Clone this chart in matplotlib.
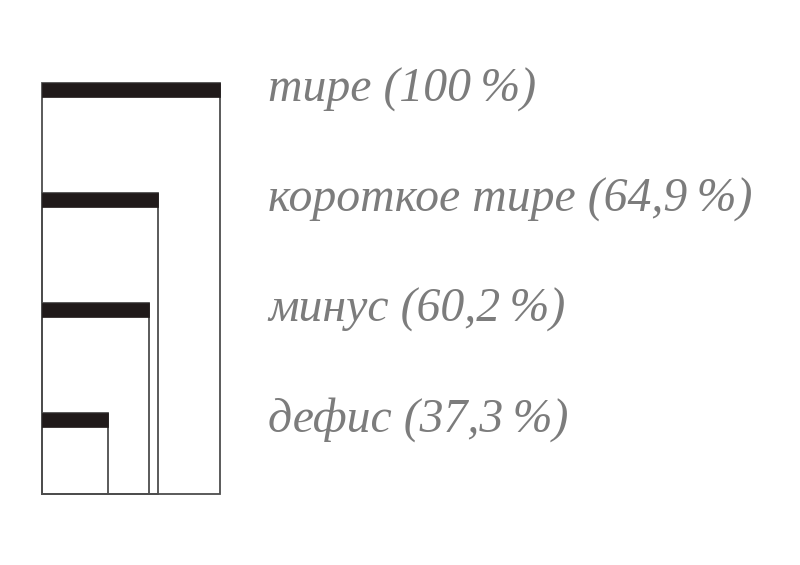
"""Nested-rectangle comparison of dash lengths (тире, короткое тире, минус, дефис)."""

import matplotlib
matplotlib.use("Agg")
import matplotlib.pyplot as plt

# data
names = ["тире", "короткое тире", "минус", "дефис"]
lengths = [100, 64.9, 60.2, 37.3]
labels = ["100", "64,9", "60,2", "37,3"]

BAR_DARK = "#201a1a"
EDGE = "#4d4d4d"
TEXT_GRAY = "#7c7c7c"

fig = plt.figure(figsize=(8, 5.65), dpi=100)
ax = fig.add_axes([0, 0, 1, 1])

# one x unit = 1.78 px, one y unit = 110 px; origin at pixel (42, 494)
ax.set_xlim(-42 / 1.78, (800 - 42) / 1.78)
ax.set_ylim(-(565 - 494) / 110, 494 / 110)
ax.axis("off")

n = len(lengths)
thick = 0.13
for i, (name, val, lab) in enumerate(zip(names, lengths, labels)):
    top = (n - 1 - i) + 0.74
    # outline of the full rectangle
    ax.barh(0, val, height=top, left=0, align="edge", fill=False,
            edgecolor=EDGE, linewidth=1.3, zorder=2)
    # thick bar on top
    ax.barh(top - thick, val, height=thick, left=0, align="edge",
            color=BAR_DARK, edgecolor=BAR_DARK, linewidth=0.5, zorder=3)
    ax.text(127, top - 0.17, f"{name} ({lab}\u2009%)",
            family=["Liberation Serif", "DejaVu Serif"], style="italic",
            fontsize=34.4, color=TEXT_GRAY, ha="left", va="baseline")

fig.savefig("out.png", dpi=100)
